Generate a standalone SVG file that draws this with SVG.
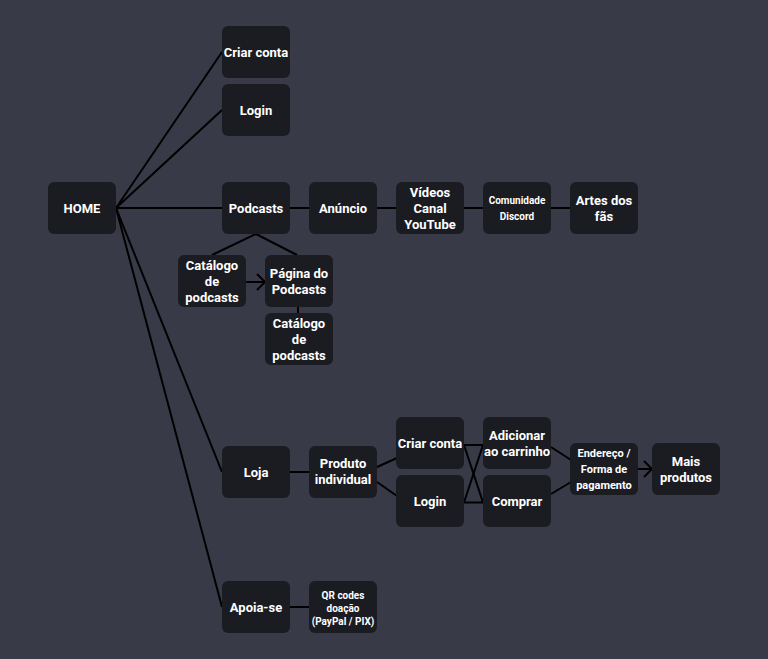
<svg xmlns="http://www.w3.org/2000/svg" width="768" height="659" viewBox="0 0 768 659">
<defs>
<style>
.n rect{fill:#1b1b22}
.n text{fill:#ffffff;font-family:Roboto,"Liberation Sans",sans-serif;font-weight:bold;font-size:13px;text-anchor:middle;dominant-baseline:central}
.n text.s{font-size:10px}
.n text.m{font-size:11px}
.c line,.c polyline{stroke:#000000;stroke-width:2;fill:none}
</style>
<marker id="ar" markerWidth="12" markerHeight="18" refX="9" refY="9" orient="auto" markerUnits="userSpaceOnUse">
<polyline points="1,1 9,9 1,17" fill="none" stroke="#000" stroke-width="2"/>
</marker>
</defs>
<rect x="0" y="0" width="768" height="659" fill="#393a47"/>
<g class="c" id="connectors">
<line x1="116" y1="208" x2="222" y2="52"/>
<line x1="116" y1="208" x2="222" y2="110"/>
<line x1="116" y1="208" x2="222" y2="208"/>
<line x1="116" y1="208" x2="222" y2="472"/>
<line x1="116" y1="208" x2="222" y2="607"/>
<line x1="290" y1="208" x2="309" y2="208"/>
<line x1="377" y1="208" x2="396" y2="208"/>
<line x1="464" y1="208" x2="483" y2="208"/>
<line x1="551" y1="208" x2="570" y2="208"/>
<line x1="256" y1="234" x2="212" y2="255"/>
<line x1="256" y1="234" x2="297" y2="255"/>
<line x1="246" y1="282" x2="265" y2="282" marker-end="url(#ar)"/>
<line x1="298" y1="307" x2="298" y2="313"/>
<line x1="290" y1="472" x2="309" y2="472"/>
<line x1="377" y1="467" x2="397" y2="458"/>
<line x1="377" y1="482" x2="397" y2="496"/>
<line x1="464" y1="445" x2="483" y2="445"/>
<line x1="464" y1="502.5" x2="483" y2="502.5"/>
<line x1="464" y1="445" x2="483" y2="502.5"/>
<line x1="464" y1="502.5" x2="483" y2="445"/>
<line x1="551" y1="447" x2="571" y2="460"/>
<line x1="551" y1="494" x2="571" y2="482"/>
<line x1="638" y1="469" x2="652" y2="469" marker-end="url(#ar)"/>
<line x1="290" y1="607" x2="309" y2="607"/>
</g>
<g class="n" id="home"><rect x="48" y="182" width="68" height="52" rx="6"/><text x="82" y="208">HOME</text></g>
<g class="n" id="criar-conta"><rect x="222" y="26" width="68" height="52" rx="6"/><text x="256" y="52">Criar conta</text></g>
<g class="n" id="login"><rect x="222" y="84" width="68" height="52" rx="6"/><text x="256" y="110">Login</text></g>
<g class="n" id="podcasts"><rect x="222" y="182" width="68" height="52" rx="6"/><text x="256" y="208">Podcasts</text></g>
<g class="n" id="anuncio"><rect x="309" y="182" width="68" height="52" rx="6"/><text x="343" y="208">Anúncio</text></g>
<g class="n" id="videos"><rect x="396" y="182" width="68" height="52" rx="6"/><text x="430" y="192">Vídeos</text><text x="430" y="208">Canal</text><text x="430" y="224">YouTube</text></g>
<g class="n" id="comunidade"><rect x="483" y="182" width="68" height="52" rx="6"/><text class="s" x="517" y="200.5">Comunidade</text><text class="s" x="517" y="216.5">Discord</text></g>
<g class="n" id="artes"><rect x="570" y="182" width="68" height="52" rx="6"/><text x="604" y="200">Artes dos</text><text x="604" y="216">fãs</text></g>
<g class="n" id="catalogo"><rect x="178" y="255" width="68" height="52" rx="6"/><text x="212" y="265.5">Catálogo</text><text x="212" y="281.5">de</text><text x="212" y="297.5">podcasts</text></g>
<g class="n" id="pagina"><rect x="265" y="255" width="68" height="52" rx="6"/><text x="299" y="273">Página do</text><text x="299" y="289">Podcasts</text></g>
<g class="n" id="catalogo2"><rect x="265" y="313" width="68" height="52" rx="6"/><text x="299" y="323.5">Catálogo</text><text x="299" y="339.5">de</text><text x="299" y="355.5">podcasts</text></g>
<g class="n" id="loja"><rect x="222" y="446" width="68" height="52" rx="6"/><text x="256" y="472">Loja</text></g>
<g class="n" id="produto"><rect x="309" y="446" width="68" height="52" rx="6"/><text x="343" y="463.5">Produto</text><text x="343" y="479.5">individual</text></g>
<g class="n" id="loja-criar"><rect x="396" y="417" width="68" height="52" rx="6"/><text x="430" y="443">Criar conta</text></g>
<g class="n" id="loja-login"><rect x="396" y="475" width="68" height="52" rx="6"/><text x="430" y="501">Login</text></g>
<g class="n" id="adicionar"><rect x="483" y="417" width="68" height="52" rx="6"/><text x="517" y="435">Adicionar</text><text x="517" y="451">ao carrinho</text></g>
<g class="n" id="comprar"><rect x="483" y="475" width="68" height="52" rx="6"/><text x="517" y="501">Comprar</text></g>
<g class="n" id="endereco"><rect x="570" y="443" width="68" height="52" rx="6"/><text class="m" x="604" y="453.5">Endereço /</text><text class="m" x="604" y="469.5">Forma de</text><text class="m" x="604" y="485.5">pagamento</text></g>
<g class="n" id="mais"><rect x="652" y="443" width="68" height="52" rx="6"/><text x="686" y="461">Mais</text><text x="686" y="477">produtos</text></g>
<g class="n" id="apoia"><rect x="222" y="581" width="68" height="52" rx="6"/><text x="256" y="607">Apoia-se</text></g>
<g class="n" id="qr"><rect x="309" y="581" width="68" height="52" rx="6"/><text class="s" x="343" y="595">QR codes</text><text class="s" x="343" y="608">doação</text><text class="s" x="343" y="621">(PayPal / PIX)</text></g>
</svg>
